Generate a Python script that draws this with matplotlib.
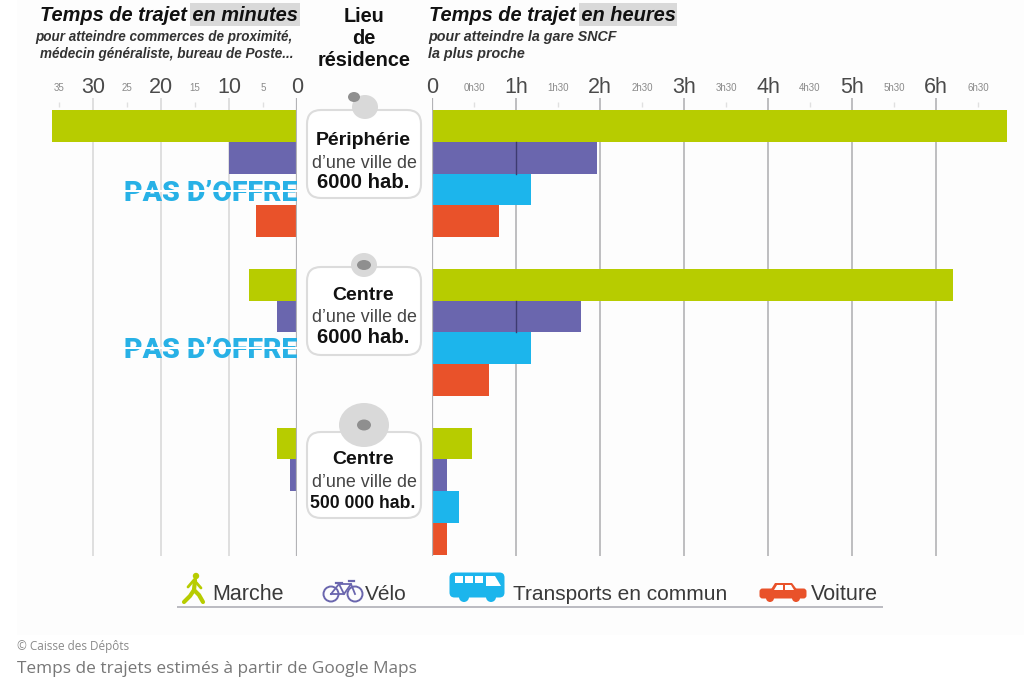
import matplotlib
matplotlib.use("Agg")
import matplotlib.pyplot as plt
from matplotlib.patches import Rectangle, FancyBboxPatch, Circle, Ellipse, Polygon

plt.rcParams['font.family'] = ['Liberation Sans', 'DejaVu Sans']

modes = ["Marche", "Vélo", "Transports en commun", "Voiture"]
colors = ["#b7cc00", "#6a66ae", "#1cb5ec", "#e9522a"]
# None = no bar drawn
minutes = [
    [36, 10, None, 6],
    [7, 3, None, None],
    [3, 1, None, None],
]
hours = [
    [6.85, 1.97, 1.18, 0.80],
    [6.20, 1.77, 1.18, 0.68],
    [0.48, 0.18, 0.32, 0.18],
]
min_major = [30, 20, 10, 0]
min_minor = [35, 25, 15, 5]
hour_major = [0, 1, 2, 3, 4, 5, 6]
hour_major_labels = ["0", "1h", "2h", "3h", "4h", "5h", "6h"]
hour_minor = [0.5, 1.5, 2.5, 3.5, 4.5, 5.5, 6.5]
hour_minor_labels = ["0h30", "1h30", "2h30", "3h30", "4h30", "5h30", "6h30"]
places = [("Périphérie", "6000 hab."), ("Centre", "6000 hab."), ("Centre", "500 000 hab.")]

W, H = 1024, 683
fig = plt.figure(figsize=(W / 100, H / 100), dpi=100, facecolor="white")

def px_axes(x0, y0, x1, y1, **kw):
    return fig.add_axes([x0 / W, 1 - y1 / H, (x1 - x0) / W, (y1 - y0) / H], **kw)

bg = px_axes(0, 0, W, H, zorder=0)
bg.set_xlim(0, W); bg.set_ylim(H, 0); bg.axis("off")
bg.add_patch(Rectangle((17, 0), W - 17, 635, fc="#fdfdfd", ec="none"))

PITCH = 31.75
Y_TOP, Y_BOT = 98, 555.5
X0_L, X0_R = 297, 432
PX_MIN, PX_H = 6.8, 84.0
LEFT_EDGE, RIGHT_EDGE = 40, 1015
ylim = ((Y_BOT - 126) / PITCH, (Y_TOP - 126) / PITCH)
tick_span = ((107 - 126) / PITCH, (102 - 126) / PITCH)

axL = px_axes(LEFT_EDGE, Y_TOP, X0_L, Y_BOT, zorder=2)
axR = px_axes(X0_R, Y_TOP, RIGHT_EDGE, Y_BOT, zorder=2)
axL.set_xlim((X0_L - LEFT_EDGE) / PX_MIN, 0)
axR.set_xlim(0, (RIGHT_EDGE - X0_R) / PX_H)

for ax in (axL, axR):
    ax.set_ylim(*ylim)
    ax.patch.set_alpha(0)
    for s in ax.spines.values():
        s.set_visible(False)
    ax.set_yticks([])
    ax.set_axisbelow(True)

for g in range(3):
    for r in range(4):
        y = 5 * g + r
        if minutes[g][r] is not None:
            axL.barh(y, minutes[g][r], height=1.0, color=colors[r], zorder=3)
        axR.barh(y, hours[g][r], height=1.0, color=colors[r], zorder=3)

GRID = "#b3b3b6"
for v in min_major[:-1]:
    axL.axvline(v, color="#d6d6d6", lw=1.1, zorder=1)
axL.axvline(0, color=GRID, lw=1.6, zorder=4)
for v in hour_major[1:]:
    axR.axvline(v, color=GRID, lw=1.2, zorder=1)
axR.axvline(0, color=GRID, lw=1.6, zorder=4)
axL.vlines(min_minor, *tick_span, color="#e0e0e0", lw=1, zorder=1)
axR.vlines(hour_minor, *tick_span, color="#e0e0e0", lw=1, zorder=1)
for g in range(2):
    axR.plot([1, 1], [5 * g + 0.5, 5 * g + 1.5], color="#3d3b70", lw=1, zorder=4)

axL.xaxis.tick_top(); axR.xaxis.tick_top()
axL.set_xticks(min_major, [str(v) for v in min_major])
axL.set_xticks(min_minor, [str(v) for v in min_minor], minor=True)
axR.set_xticks(hour_major, hour_major_labels)
axR.set_xticks(hour_minor, hour_minor_labels, minor=True)
for ax in (axL, axR):
    ax.tick_params(axis="x", which="major", length=0, labelsize=15.5, labelcolor="#4a4a4a", pad=0)
    ax.tick_params(axis="x", which="minor", length=0, labelsize=7, labelcolor="#8a8a8a", pad=3.5)

# Titles
bg.add_patch(Rectangle((190, 3), 110, 23, fc="#d9d9d9", ec="none"))
bg.add_patch(Rectangle((579, 3), 98, 23, fc="#d9d9d9", ec="none"))
TS = dict(fontweight="bold", fontstyle="italic", color="#111111", zorder=5)
bg.text(298, 21, "Temps de trajet en minutes", ha="right", va="baseline", fontsize=14.4, **TS)
bg.text(429, 21, "Temps de trajet en heures", ha="left", va="baseline", fontsize=14.4, **TS)
SS = dict(fontweight="bold", fontstyle="italic", color="#333333")
bg.text(293, 41, "pour atteindre commerces de proximité,", ha="right", va="baseline", fontsize=9.75, **SS)
bg.text(293, 58, "médecin généraliste, bureau de Poste...", ha="right", va="baseline", fontsize=9.75, **SS)
bg.text(428, 41, "pour atteindre la gare SNCF", ha="left", va="baseline", fontsize=10.3, **SS)
bg.text(428, 58, "la plus proche", ha="left", va="baseline", fontsize=10.3, **SS)
for y, t in zip((22, 44, 66), ("Lieu", "de", "résidence")):
    bg.text(364, y, t, ha="center", va="baseline", fontsize=14.3, fontweight="bold", color="#111111")

# Location cards
top = px_axes(0, 0, W, H, zorder=3)
top.set_xlim(0, W); top.set_ylim(H, 0); top.axis("off"); top.patch.set_alpha(0)
cards = [(307, 110, 114, 88), (307, 267, 114, 88), (307, 432, 114, 86)]
offsets = [(35, 58, 78), (33, 55, 76), (32, 55, 76)]
name_sizes = [14, 14, 14]
hab_sizes = [14.6, 14.6, 12.7]
pins = [((365, 107), (13, 12), (354, 97), 6, 5),
        ((364, 265), (13, 12), (364, 265), 7, 5),
        ((364, 425), (25, 22), (364, 425), 7, 5.5)]
for i, ((x, y, w, h), (c, (rx, ry), d, dx, dy), (a, b)) in enumerate(zip(cards, pins, places)):
    top.add_patch(FancyBboxPatch((x + 12, y + 12), w - 24, h - 24,
                                 boxstyle="round,pad=12,rounding_size=14",
                                 fc="white", ec="#dcdcdc", lw=1.5, zorder=2))
    top.add_patch(Ellipse(c, 2 * rx, 2 * ry, fc="#d9d9d9", ec="none", zorder=2.5))
    top.add_patch(Ellipse(d, 2 * dx, 2 * dy, fc="#8f8f8f", ec="none", zorder=3))
    cx = 363
    o = offsets[i]
    top.text(cx, y + o[0], a, ha="center", va="baseline", fontsize=name_sizes[i], fontweight="bold", color="#111111", zorder=4)
    top.text(cx + 1, y + o[1], "d’une ville de", ha="center", va="baseline", fontsize=12.9, color="#444444", zorder=4)
    top.text(cx, y + o[2], b, ha="center", va="baseline", fontsize=hab_sizes[i], fontweight="bold", color="#111111", zorder=4)

# PAS D'OFFRE stamps
for yb in (201, 358):
    top.text(297.5, yb, "PAS D’OFFRE", ha="right", va="baseline", fontsize=20.5, fontweight="black",
             family="Roboto", color="#28b1e6", zorder=1)
    top.add_patch(Rectangle((120, yb - 11), 180, 2.2, fc="white", ec="none", zorder=1.5))

# Legend
lc = colors
top.add_patch(Rectangle((177, 606), 706, 2.4, fc="#bcbcc2", ec="none"))
top.text(212, 600, modes[0], fontsize=15.5, color="#3a3a3a", va="baseline")
top.text(365, 600, modes[1], fontsize=15, color="#3a3a3a", va="baseline")
top.text(513, 600, modes[2], fontsize=15, color="#3a3a3a", va="baseline")
top.text(811, 600, modes[3], fontsize=15.5, color="#3a3a3a", va="baseline")

# Walker
top.add_patch(Circle((196, 576), 3.2, fc=lc[0], ec="none"))
top.plot([195, 194, 199, 203], [580, 590, 595, 602], color=lc[0], lw=3, solid_capstyle="round")
top.plot([194, 190, 184], [590, 596, 602], color=lc[0], lw=3, solid_capstyle="round")
top.plot([188, 194, 201], [587, 580, 588], color=lc[0], lw=2, solid_capstyle="round")
# Bike
for cx in (331, 355):
    top.add_patch(Circle((cx, 594), 7.5, fc="none", ec=lc[1], lw=1.4))
top.plot([331, 339, 351, 344, 331], [594, 584, 584, 594, 594], color=lc[1], lw=1.3)
top.plot([351, 355], [584, 594], color=lc[1], lw=1.3)
top.plot([339, 344], [584, 594], color=lc[1], lw=1.3)
top.plot([336, 342], [583, 583], color=lc[1], lw=1.6)
top.plot([349, 354], [581, 581], color=lc[1], lw=1.6)
# Bus
top.add_patch(FancyBboxPatch((452, 575), 50, 20, boxstyle="round,pad=2.5,rounding_size=5", fc=lc[2], ec="none"))
for wx in (455, 465, 475):
    top.add_patch(Rectangle((wx, 576), 8, 7, fc="white", ec="none"))
top.add_patch(Polygon([[486, 576], [495, 576], [501, 586], [486, 586]], fc="white", ec="none"))
for cx in (464, 491):
    top.add_patch(Circle((cx, 597), 5, fc=lc[2], ec="none"))
# Car
top.add_patch(FancyBboxPatch((761, 590), 44, 7, boxstyle="round,pad=1.5,rounding_size=3", fc=lc[3], ec="none"))
top.add_patch(Polygon([[770, 591], [775, 583], [792, 583], [798, 591]], fc=lc[3], ec="none"))
top.add_patch(Polygon([[774, 590], [777, 585], [783, 585], [783, 590]], fc="white", ec="none"))
top.add_patch(Polygon([[785, 590], [785, 585], [791, 585], [794, 590]], fc="white", ec="none"))
for cx in (770, 796):
    top.add_patch(Circle((cx, 598), 4, fc=lc[3], ec="none"))

# Captions
top.text(17, 650, "© Caisse des Dépôts", fontsize=8.5, color="#8a8a8a", family="Open Sans", va="baseline")
top.text(17, 673, "Temps de trajets estimés à partir de Google Maps", fontsize=12.4, color="#777777",
         family="Open Sans", va="baseline")

fig.savefig("out.png", dpi=100, facecolor="white")
